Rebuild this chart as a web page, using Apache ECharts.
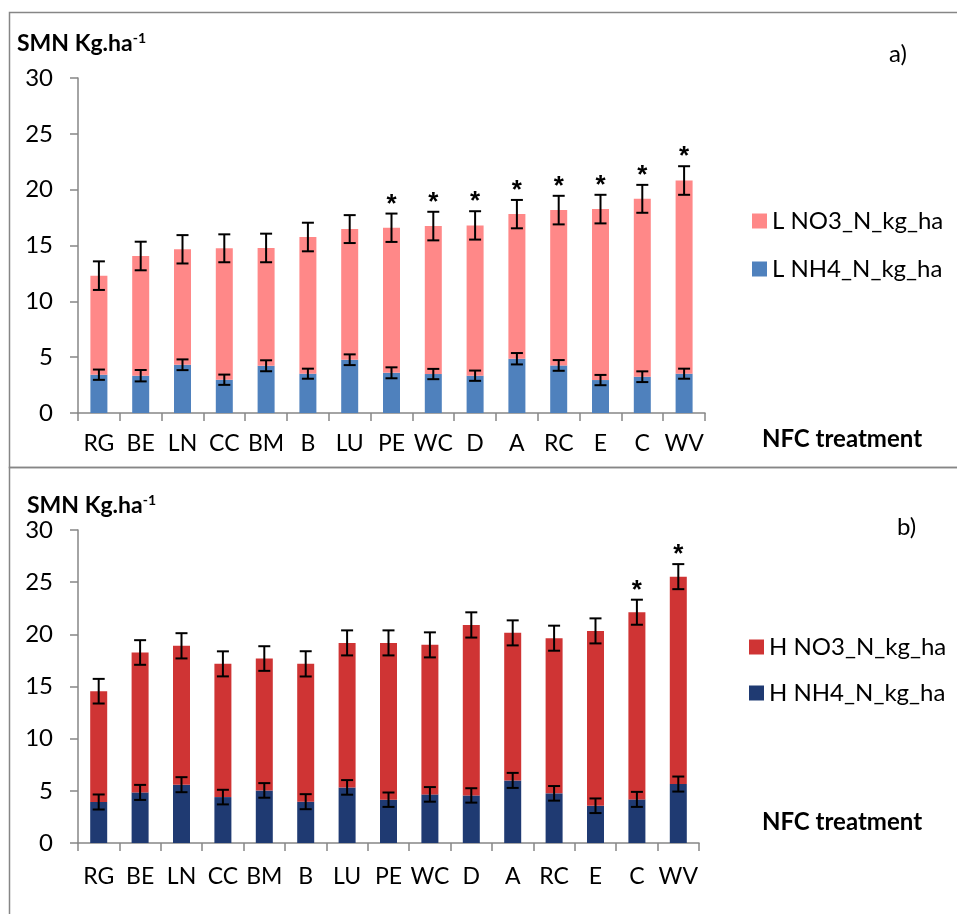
<!DOCTYPE html>
<html>
<head>
<meta charset="utf-8">
<script src="https://cdn.jsdelivr.net/npm/echarts@6/dist/echarts.min.js"></script>
<style>
html, body { margin: 0; padding: 0; background: #fff; }
#main { width: 957px; height: 914px; }
</style>
</head>
<body>
<div id="main"></div>
<script>
var categories = ['RG','BE','LN','CC','BM','B','LU','PE','WC','D','A','RC','E','C','WV'];

// panel a) low N
var lowNH4 = [3.43,3.34,4.32,2.98,4.23,3.52,4.77,3.60,3.49,3.34,4.86,4.26,2.95,3.25,3.52];
var lowTotal = [12.3,14.06,14.66,14.75,14.78,15.76,16.47,16.59,16.74,16.8,17.81,18.17,18.26,19.18,20.82];
var lowNH4Err = [0.46,0.51,0.48,0.46,0.49,0.45,0.48,0.49,0.46,0.46,0.51,0.48,0.46,0.48,0.45];
var lowTotalErr = [1.28,1.28,1.27,1.25,1.28,1.28,1.25,1.27,1.28,1.27,1.27,1.28,1.28,1.25,1.28];
var lowStar = [0,0,0,0,0,0,0,1,1,1,1,1,1,1,1];

// panel b) high N
var highNH4 = [3.93,4.85,5.59,4.40,5.04,3.96,5.33,4.15,4.66,4.56,6.0,4.76,3.57,4.18,5.65];
var highTotal = [14.55,18.26,18.9,17.17,17.68,17.17,19.18,19.18,18.99,20.9,20.14,19.63,20.33,22.12,25.53];
var highNH4Err = [0.72,0.72,0.72,0.7,0.7,0.72,0.7,0.69,0.7,0.69,0.72,0.7,0.7,0.72,0.72];
var highTotalErr = [1.18,1.18,1.21,1.2,1.18,1.21,1.2,1.2,1.2,1.21,1.2,1.2,1.2,1.2,1.2];
var highStar = [0,0,0,0,0,0,0,0,0,0,0,0,0,1,1];

var yTicks = [0, 30, 5];

var FONT = 'Lato, "Noto Sans", sans-serif';
var axisGray = '#868686';

var chart = echarts.init(document.getElementById('main'));

function diff(a, b) {
	return a.map(function (v, i) { return +(v - b[i]).toFixed(2); });
}

function errData(vals, errs, stars) {
	return vals.map(function (v, i) { return [i, v, errs[i], stars ? stars[i] : 0]; });
}

// 误差线 + 星号
function renderErr(params, api) {
	var i = api.value(0), v = api.value(1), e = api.value(2);
	var hi = api.coord([i, v + e]);
	var lo = api.coord([i, v - e]);
	var w = 6;
	var st = { stroke: '#000', lineWidth: 2 };
	var kids = [
		{ type: 'line', shape: { x1: hi[0], y1: hi[1], x2: lo[0], y2: lo[1] }, style: st },
		{ type: 'line', shape: { x1: hi[0] - w, y1: hi[1], x2: hi[0] + w, y2: hi[1] }, style: st },
		{ type: 'line', shape: { x1: lo[0] - w, y1: lo[1], x2: lo[0] + w, y2: lo[1] }, style: st }
	];
	if (api.value(3)) {
		kids.push({
			type: 'text',
			style: { text: '*', x: hi[0], y: hi[1] - 22, align: 'center', verticalAlign: 'top',
				font: 'bold 26px "Liberation Sans", sans-serif', fill: '#000' }
		});
	}
	return { type: 'group', children: kids };
}

function xAxisCfg(idx, margin) {
	return {
		type: 'category', gridIndex: idx, data: categories,
		axisLine: { lineStyle: { color: axisGray, width: 1.5 } },
		axisTick: { show: true, length: 8, lineStyle: { color: axisGray, width: 1.5 } },
		axisLabel: { color: '#000', fontSize: 23, fontFamily: FONT, margin: margin, interval: 0 }
	};
}

function yAxisCfg(idx) {
	return {
		type: 'value', gridIndex: idx, min: yTicks[0], max: yTicks[1], interval: yTicks[2],
		axisLine: { show: true, lineStyle: { color: axisGray, width: 1.5 } },
		axisTick: { show: true, length: 8, lineStyle: { color: axisGray, width: 1.5 } },
		splitLine: { show: false },
		axisLabel: { color: '#000', fontSize: 24, fontFamily: FONT, margin: 25 }
	};
}

var option = {
	animation: false,
	backgroundColor: '#fff',
	textStyle: { fontFamily: FONT },
	grid: [
		{ left: 78, top: 78, width: 627, height: 335 },
		{ left: 78, top: 530, width: 621, height: 313 }
	],
	xAxis: [xAxisCfg(0, 19), xAxisCfg(1, 22)],
	yAxis: [yAxisCfg(0), yAxisCfg(1)],
	legend: [
		{
			data: ['L NO3_N_kg_ha', 'L NH4_N_kg_ha'],
			orient: 'vertical', left: 747, top: 203, icon: 'rect',
			itemWidth: 15, itemHeight: 15, itemGap: 22,
			textStyle: { fontSize: 24, lineHeight: 26, color: '#000', fontFamily: FONT }
		},
		{
			data: ['H NO3_N_kg_ha', 'H NH4_N_kg_ha'],
			orient: 'vertical', left: 744, top: 629, icon: 'rect',
			itemWidth: 15, itemHeight: 15, itemGap: 20,
			textStyle: { fontSize: 24, lineHeight: 26, color: '#000', fontFamily: FONT }
		}
	],
	graphic: [
		{ type: 'rect', shape: { x: 9.5, y: 12.5, width: 1000, height: 455 }, style: { fill: null, stroke: axisGray, lineWidth: 1.5 }, silent: true },
		{ type: 'rect', shape: { x: 9.5, y: 467.5, width: 1000, height: 500 }, style: { fill: null, stroke: axisGray, lineWidth: 1.5 }, silent: true },
		{ type: 'text', left: 17, top: 31, style: { text: '{b|SMN Kg.ha}{s|-1}', rich: {
			b: { font: 'bold 23px ' + FONT, fill: '#000', verticalAlign: 'bottom' },
			s: { font: 'bold 14px ' + FONT, fill: '#000', verticalAlign: 'top', padding: [0, 0, 10, 0] } } } },
		{ type: 'text', left: 27, top: 493, style: { text: '{b|SMN Kg.ha}{s|-1}', rich: {
			b: { font: 'bold 23px ' + FONT, fill: '#000', verticalAlign: 'bottom' },
			s: { font: 'bold 14px ' + FONT, fill: '#000', verticalAlign: 'top', padding: [0, 0, 10, 0] } } } },
		{ type: 'text', style: { text: 'a)', x: 889, y: 54, verticalAlign: 'middle', font: '24px ' + FONT, fill: '#000' } },
		{ type: 'text', style: { text: 'b)', x: 897, y: 527, verticalAlign: 'middle', font: '24px ' + FONT, fill: '#000' } },
		{ type: 'text', style: { text: 'NFC treatment', x: 842, y: 439, align: 'center', verticalAlign: 'middle', font: 'bold 24px ' + FONT, fill: '#000' } },
		{ type: 'text', style: { text: 'NFC treatment', x: 842, y: 822, align: 'center', verticalAlign: 'middle', font: 'bold 24px ' + FONT, fill: '#000' } }
	],
	series: [
		{ name: 'L NH4_N_kg_ha', type: 'bar', stack: 'low', barWidth: 17, xAxisIndex: 0, yAxisIndex: 0,
			itemStyle: { color: '#4F81BD' }, data: lowNH4 },
		{ name: 'L NO3_N_kg_ha', type: 'bar', stack: 'low', barWidth: 17, xAxisIndex: 0, yAxisIndex: 0,
			itemStyle: { color: '#FF8888' }, data: diff(lowTotal, lowNH4) },
		{ type: 'custom', xAxisIndex: 0, yAxisIndex: 0, z: 5, renderItem: renderErr, data: errData(lowNH4, lowNH4Err) },
		{ type: 'custom', xAxisIndex: 0, yAxisIndex: 0, z: 5, renderItem: renderErr, data: errData(lowTotal, lowTotalErr, lowStar) },

		{ name: 'H NH4_N_kg_ha', type: 'bar', stack: 'high', barWidth: 17, xAxisIndex: 1, yAxisIndex: 1,
			itemStyle: { color: '#1F3A72' }, data: highNH4 },
		{ name: 'H NO3_N_kg_ha', type: 'bar', stack: 'high', barWidth: 17, xAxisIndex: 1, yAxisIndex: 1,
			itemStyle: { color: '#CF3434' }, data: diff(highTotal, highNH4) },
		{ type: 'custom', xAxisIndex: 1, yAxisIndex: 1, z: 5, renderItem: renderErr, data: errData(highNH4, highNH4Err) },
		{ type: 'custom', xAxisIndex: 1, yAxisIndex: 1, z: 5, renderItem: renderErr, data: errData(highTotal, highTotalErr, highStar) }
	]
};

chart.setOption(option);

window.onresize = function () {
	chart.resize();
};
</script>
</body>
</html>
